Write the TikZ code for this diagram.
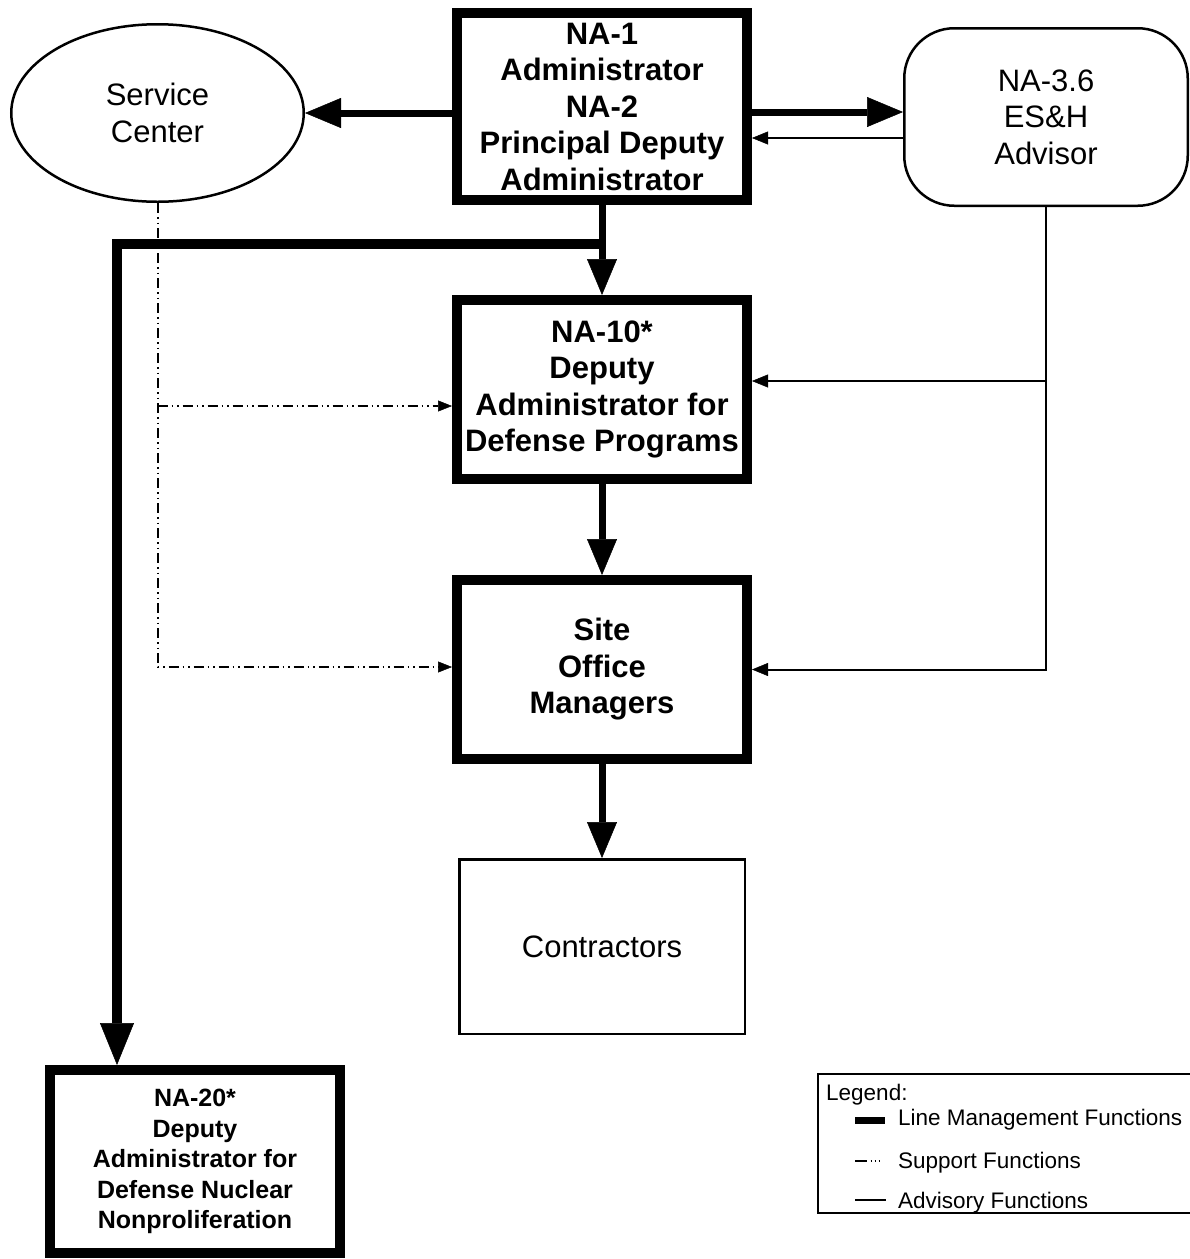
\documentclass[tikz,border=0pt]{standalone}
\usepackage{fontspec}
\setmainfont{Liberation Sans}
\usetikzlibrary{arrows.meta,shapes.geometric,calc}
\begin{document}
\begin{tikzpicture}[x=1pt,y=-1pt,
  heavybox/.style={draw, line width=10pt, inner sep=0pt, align=center,
    font=\bfseries\fontsize{31}{36.5}\selectfont, minimum width=290pt},
  lightbox/.style={draw, line width=2.5pt, inner sep=0pt, align=center,
    font=\fontsize{31}{36.5}\selectfont},
  mgmtarrow/.style={line width=7pt, -{Triangle[length=36pt,width=30pt,line width=0.5pt]}},
  heavyarrow/.style={line width=10pt, -{Triangle[length=42pt,width=34pt,line width=0.5pt]}},
  advarrow/.style={line width=2pt, -{Triangle[length=16pt,width=13pt,line width=0.5pt]}},
  supportline/.style={line width=2pt,
    dash pattern=on 10pt off 4pt on 1.5pt off 4pt on 1.5pt off 4pt,
    -{Triangle[length=14pt,width=11pt,line width=0.5pt]}},
  legendtext/.style={anchor=base west, inner sep=0pt, font=\fontsize{22.5}{27}\selectfont}
]
\useasboundingbox (0,0) rectangle (1190,1259);

% nodes
\node[heavybox, minimum height=187pt] (top) at (602,106.5)
  {NA-1\\Administrator\\NA-2\\Principal Deputy\\Administrator};
\node[lightbox, ellipse, minimum width=292.5pt, minimum height=177.5pt] (svc) at (157.5,113)
  {Service\\Center};
\node[lightbox, rectangle, rounded corners=50pt, minimum width=283.5pt, minimum height=177.5pt] (esh) at (1046,117)
  {NA-3.6\\ES\&H\\Advisor};
\node[heavybox, minimum height=179pt] (na10) at (602,389.5)
  {NA-10*\\Deputy\\Administrator for\\Defense Programs};
\node[heavybox, minimum height=179pt] (site) at (602,669.5)
  {Site\\Office\\Managers};
\node[lightbox, minimum width=285.5pt, minimum height=174.5pt] (contr) at (602,946.5)
  {Contractors};
\node[heavybox, minimum height=183pt, font=\bfseries\fontsize{25}{30.5}\selectfont] (na20) at (195,1161.5)
  {NA-20*\\Deputy\\Administrator for\\Defense Nuclear\\Nonproliferation};

% line management connectors
\draw[mgmtarrow] (top.west |- svc.east) -- (svc.east);
\draw[mgmtarrow] (top.east |- 0,112) -- (esh.west |- 0,112);
\draw[mgmtarrow] (top.south) -- (na10.north);
\draw[mgmtarrow] (na10.south) -- (site.north);
\draw[mgmtarrow] (site.south) -- (contr.north);
\coordinate (j) at ($(top.south |- 0,244)+(3.5,0)$);
\coordinate (k) at (117,244);
\draw[heavyarrow] (j) -- (k) -- (k |- na20.north);

% advisory connectors
\draw[advarrow] (esh.west |- 0,138) -- (top.east |- 0,138);
\draw[advarrow] (esh.south) -- (esh.south |- site.east) -- (site.east);
\draw[advarrow] (esh.south |- 0,381) -- (na10.east |- 0,381);

% support connectors
\draw[supportline] (svc.south) -- (svc.south |- 0,667) -- (site.west |- 0,667);
\draw[supportline] (svc.south |- 0,406) -- (na10.west |- 0,406);

% legend
\node[draw, line width=2pt, anchor=north west, minimum width=383pt, minimum height=139pt, inner sep=0pt] (legend) at (817,1073) {};
\node[legendtext] (lgtitle) at (826,1100) {Legend:};
\draw[line width=7pt] (855,1120) -- (885,1120);
\node[legendtext] (lg1) at (898,1125) {Line Management Functions};
\draw[line width=2pt, dash pattern=on 12pt off 3.5pt on 1.5pt off 2.5pt on 1.5pt off 2.5pt on 1.5pt off 20pt] (855,1161) -- (882,1161);
\node[legendtext] (lg2) at (898,1168) {Support Functions};
\draw[line width=2pt] (855,1200) -- (886,1200);
\node[legendtext] (lg3) at (898,1208) {Advisory Functions};
\end{tikzpicture}
\end{document}
